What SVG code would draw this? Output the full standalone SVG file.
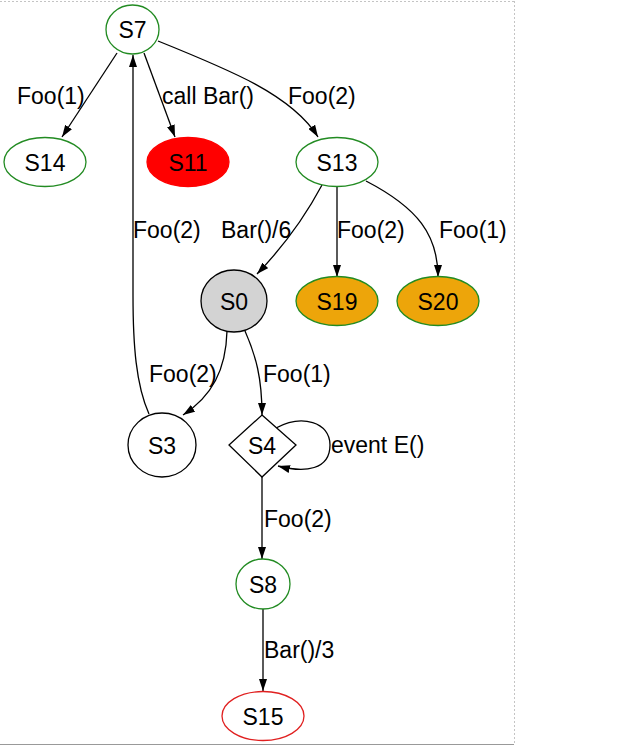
<svg xmlns="http://www.w3.org/2000/svg" width="640" height="747" viewBox="0 0 640 747">
<defs>
<marker id="arr" viewBox="0 0 12 8" refX="12" refY="4" markerWidth="12" markerHeight="8" markerUnits="userSpaceOnUse" orient="auto">
<path d="M0,0 L12,4 L0,8 Z" fill="#000"/>
</marker>
</defs>
<style>
text{font-family:"Liberation Sans",Arial,sans-serif;font-size:23px;fill:#000}
.n text{text-anchor:middle}
.e path{fill:none;stroke:#000;stroke-width:1.3;marker-end:url(#arr)}
.g{fill:#fff;stroke:#228b22;stroke-width:1.3}
.frame{stroke:#c4c4c4;stroke-width:1;fill:none}
</style>
<rect width="640" height="747" fill="#fff"/>
<g id="frame">
<line class="frame" x1="0" y1="1.5" x2="514" y2="1.5" stroke-dasharray="2 2"/>
<line class="frame" x1="514.5" y1="1" x2="514.5" y2="744" stroke-dasharray="2 2"/>
<line x1="0" y1="744.5" x2="514" y2="744.5" stroke="#999" stroke-width="1"/>
</g>
<g id="connectors" class="e">
<path d="M117,53 L62,137"/>
<path d="M144,53 L175,137"/>
<path d="M158,41 C230,70 292,95 318,137"/>
<path d="M149,414 C136,385 133,345 133,295 L133,55"/>
<path d="M322,185 C306,215 284,246 257,274"/>
<path d="M337,186 L337,277"/>
<path d="M366,181 C418,208 438,235 438,277"/>
<path d="M227,331 C226,370 212,396 183,415"/>
<path d="M245,331 C256,356 262,378 262,415"/>
<path d="M276,428 C302,414 330,422 330,445 C330,470 305,473 278,466"/>
<path d="M262,477 L262,559"/>
<path d="M263,609 L263,691"/>
</g>
<g id="labels">
<text x="17" y="104">Foo(1)</text>
<text x="162" y="104">call Bar()</text>
<text x="288" y="104">Foo(2)</text>
<text x="133" y="238">Foo(2)</text>
<text x="221" y="238">Bar()/6</text>
<text x="337" y="238">Foo(2)</text>
<text x="439" y="238">Foo(1)</text>
<text x="149" y="382">Foo(2)</text>
<text x="263" y="382">Foo(1)</text>
<text x="331" y="453">event E()</text>
<text x="264" y="527">Foo(2)</text>
<text x="264" y="658">Bar()/3</text>
</g>
<g id="S7" class="n"><ellipse class="g" cx="132.5" cy="29.5" rx="26.5" ry="24.5"/><text x="132.5" y="38">S7</text></g>
<g id="S14" class="n"><ellipse class="g" cx="45" cy="162" rx="41" ry="24.5"/><text x="45" y="170.5">S14</text></g>
<g id="S11" class="n"><ellipse cx="188" cy="162" rx="41" ry="24.5" fill="#ff0000" stroke="#ff0000" stroke-width="1.3"/><text x="188" y="170.5">S11</text></g>
<g id="S13" class="n"><ellipse class="g" cx="337" cy="162" rx="41" ry="24.5"/><text x="337" y="170.5">S13</text></g>
<g id="S0" class="n"><ellipse cx="234" cy="301" rx="33" ry="31" fill="#d3d3d3" stroke="#000" stroke-width="1.3"/><text x="234" y="309.5">S0</text></g>
<g id="S19" class="n"><ellipse cx="337" cy="301" rx="41" ry="24.5" fill="#eda50a" stroke="#228b22" stroke-width="1.3"/><text x="337" y="309.5">S19</text></g>
<g id="S20" class="n"><ellipse cx="438" cy="301" rx="41" ry="24.5" fill="#eda50a" stroke="#228b22" stroke-width="1.3"/><text x="438" y="309.5">S20</text></g>
<g id="S3" class="n"><ellipse cx="162" cy="445" rx="34" ry="32" fill="#fff" stroke="#000" stroke-width="1.3"/><text x="162" y="453.5">S3</text></g>
<g id="S4" class="n"><polygon points="262,415 296,445 262,477 229,445" fill="#fff" stroke="#000" stroke-width="1.3"/><text x="262" y="453.5">S4</text></g>
<g id="S8" class="n"><ellipse class="g" cx="263" cy="584" rx="27" ry="25"/><text x="263" y="592.5">S8</text></g>
<g id="S15" class="n"><ellipse cx="263" cy="716" rx="41" ry="24.5" fill="#fff" stroke="#e02020" stroke-width="1.3"/><text x="263" y="724.5">S15</text></g>
</svg>
